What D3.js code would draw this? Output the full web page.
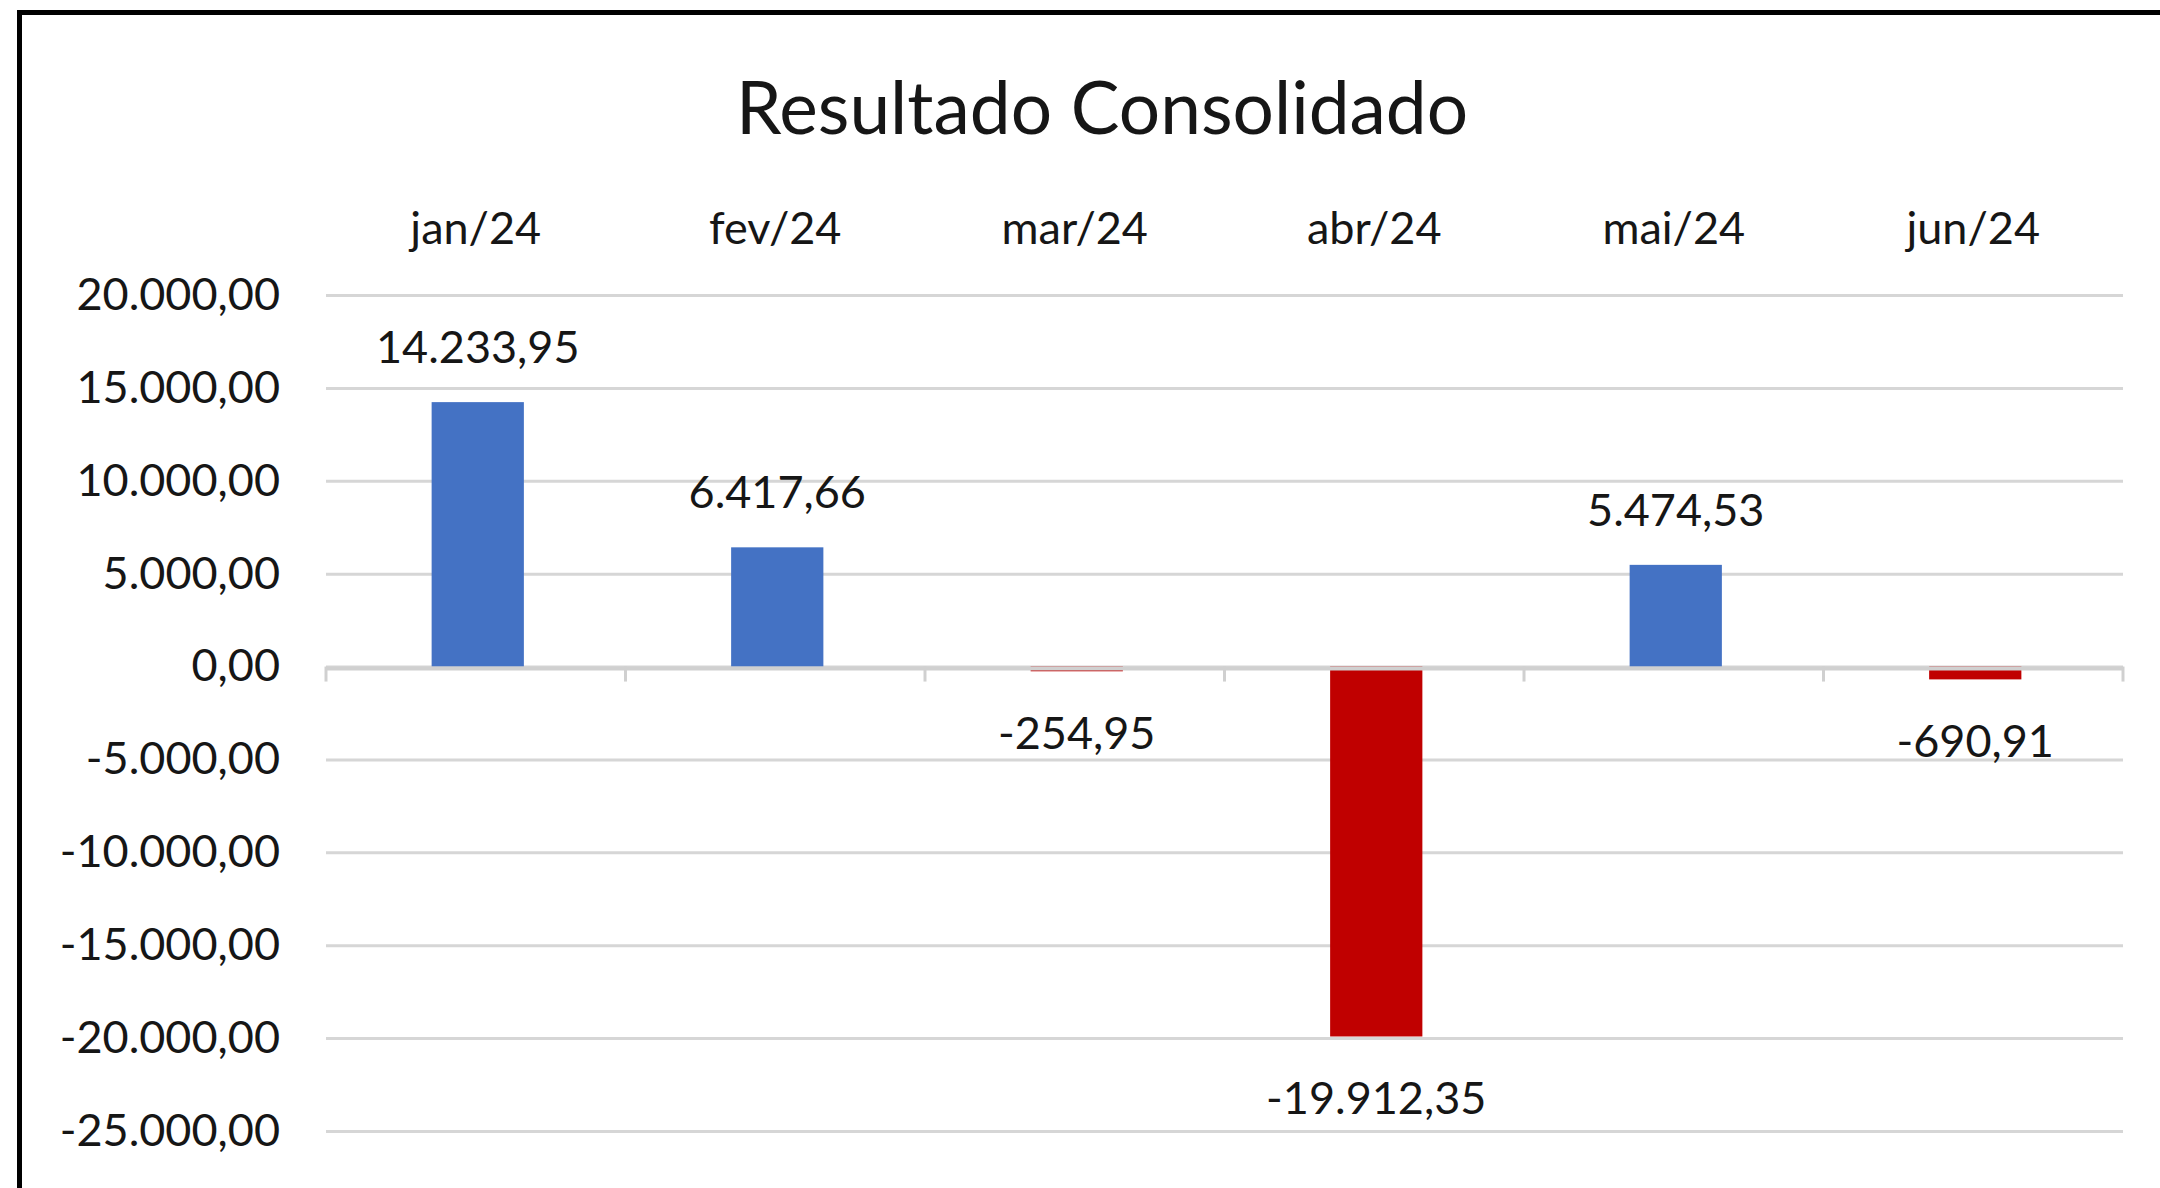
<!DOCTYPE html>
<html>
<head>
<meta charset="utf-8">
<script src="https://cdn.jsdelivr.net/npm/d3@7"></script>
<style>
  html, body { margin: 0; padding: 0; background: #fff; }
  svg { display: block; font-family: Lato, "Noto Sans", sans-serif; }
</style>
</head>
<body>
<div id="chart"></div>
<script>
// data
const months = ["jan/24", "fev/24", "mar/24", "abr/24", "mai/24", "jun/24"];
const results = [14233.95, 6417.66, -254.95, -19912.35, 5474.53, -690.91];
const yTicks = [-25000, -20000, -15000, -10000, -5000, 0, 5000, 10000, 15000, 20000];

const w = 2160;
const h = 1188;
const plotLeft = 326, plotRight = 2123;
const plotTop = 295, plotBottom = 1131;
const fontSize = 45;
const textColor = "#161616";
const gridColor = "#d6d6d6";

const br = d3.formatLocale({decimal: ",", thousands: ".", grouping: [3], currency: ["R$", ""], minus: "-"});
const fmt = br.format(",.2f");

const svg = d3.select("#chart").append("svg")
    .attr("width", w)
    .attr("height", h);

// frame (only top and left edges are inside the picture)
svg.append("path")
    .attr("d", `M19.5,${h + 10} L19.5,12.5 L${w + 10},12.5`)
    .attr("fill", "none")
    .attr("stroke", "#000")
    .attr("stroke-width", 5);

svg.append("text")
    .attr("x", 1102)
    .attr("y", 134)
    .attr("text-anchor", "middle")
    .attr("font-size", 73)
    .attr("fill", textColor)
    .text("Resultado Consolidado");

const xScale = d3.scaleBand()
    .domain(months)
    .range([plotLeft, plotRight])
    .padding(0);

const yScale = d3.scaleLinear()
    .domain([-25000, 20000])
    .range([plotBottom, plotTop]);

// y axis + gridlines
const yAxis = d3.axisLeft(yScale)
    .tickValues(yTicks)
    .tickSize(-(plotRight - plotLeft))
    .tickPadding(46)
    .tickFormat(fmt);

const gy = svg.append("g")
    .attr("transform", `translate(${plotLeft},0)`)
    .call(yAxis);
gy.select(".domain").remove();
gy.selectAll(".tick line")
    .attr("stroke", gridColor)
    .attr("stroke-width", 3);
gy.selectAll(".tick text")
    .attr("font-size", fontSize)
    .attr("font-family", "Lato, 'Noto Sans', sans-serif")
    .attr("fill", textColor);

// category labels on top
const xAxis = d3.axisTop(xScale).tickSize(0).tickPadding(0);
const gx = svg.append("g")
    .attr("transform", `translate(0,244)`)
    .call(xAxis);
gx.select(".domain").remove();
gx.selectAll(".tick text")
    .attr("font-size", fontSize)
    .attr("font-family", "Lato, 'Noto Sans', sans-serif")
    .attr("fill", textColor);

// bars
const barRatio = 0.308;
const barW = xScale.bandwidth() * barRatio;
const barShift = 2;
svg.append("g")
    .selectAll("rect")
    .data(results)
    .enter()
    .append("rect")
    .attr("x", (d, i) => xScale(months[i]) + (xScale.bandwidth() - barW) / 2 + barShift)
    .attr("y", d => yScale(Math.max(0, d)))
    .attr("width", barW)
    .attr("height", d => Math.abs(yScale(d) - yScale(0)))
    .attr("fill", d => d >= 0 ? "#4472c4" : "#c00000");

// zero axis with ticks on band edges
const y0 = yScale(0);
const zero = svg.append("g").attr("stroke", "#d0d0d0");
zero.append("line")
    .attr("x1", plotLeft).attr("x2", plotRight)
    .attr("y1", y0 + 2).attr("y2", y0 + 2)
    .attr("stroke-width", 4);
zero.selectAll(".edge")
    .data(months.map(m => xScale(m)).concat([plotRight]))
    .enter()
    .append("line")
    .attr("stroke-width", 3)
    .attr("x1", d => d).attr("x2", d => d)
    .attr("y1", y0).attr("y2", y0 + 15);

// data labels
svg.append("g")
    .selectAll("text")
    .data(results)
    .enter()
    .append("text")
    .attr("x", (d, i) => xScale(months[i]) + xScale.bandwidth() / 2 + barShift)
    .attr("y", d => d >= 0 ? yScale(d) - 39 : yScale(d) + 78)
    .attr("text-anchor", "middle")
    .attr("font-size", fontSize)
    .attr("fill", textColor)
    .text(d => fmt(d));
</script>
</body>
</html>
